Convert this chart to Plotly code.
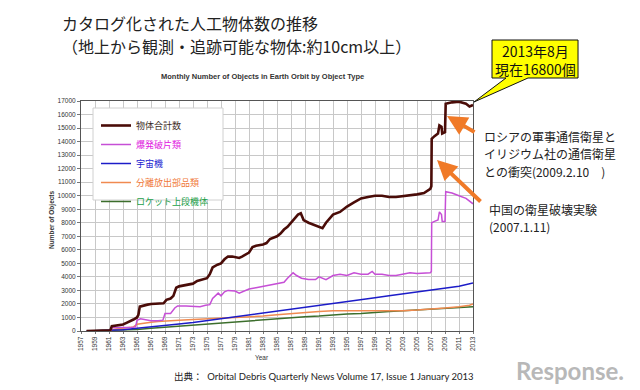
import plotly.graph_objects as go

# ---------------- data ----------------
total_x = [1957.8, 1958.5, 1959.5, 1960.5, 1961.2, 1961.4, 1962.0, 1962.5, 1963.0, 1963.5, 1964.0, 1964.5,
           1965.0, 1965.2, 1965.4, 1966.0, 1966.5, 1967.0, 1968.0, 1968.8, 1969.2, 1969.8, 1970.2, 1970.6,
           1971.0, 1972.0, 1973.0, 1973.6, 1974.4, 1975.0, 1975.4, 1975.8, 1976.5, 1977.0, 1977.5, 1978.0,
           1978.6, 1979.0, 1979.6, 1980.0, 1981.0, 1981.5, 1982.0, 1983.0, 1983.5, 1984.0, 1985.0, 1985.5,
           1986.0, 1986.5, 1987.0, 1987.5, 1988.0, 1988.4, 1988.8, 1989.5, 1990.5, 1991.0, 1991.5, 1992.0,
           1993.0, 1994.0, 1995.0, 1996.0, 1997.0, 1998.0, 1999.0, 2000.0, 2001.0, 2002.0, 2003.0, 2004.0,
           2005.0, 2006.0, 2006.9, 2007.05, 2007.1, 2007.5, 2008.0, 2008.2, 2008.5, 2008.6, 2009.0, 2009.1,
           2010.0, 2011.0, 2011.5, 2012.0, 2012.5, 2013.0]
total_y = [0, 10, 20, 40, 60, 350, 380, 420, 480, 600, 700, 850,
           1000, 1200, 1800, 1900, 1950, 2000, 2000, 2050, 2300, 2400, 2600, 3200,
           3300, 3400, 3500, 3700, 3800, 3900, 4200, 4700, 4900, 5000, 5300, 5500,
           5500, 5450, 5400, 5500, 5800, 6200, 6300, 6400, 6500, 6800, 7000, 7200,
           7500, 7700, 8000, 8300, 8600, 8700, 8200, 8000, 7800, 7700, 7600, 8000,
           8600, 8800, 9200, 9500, 9800, 9900, 10000, 10000, 9900, 9900, 9950, 10000,
           10100, 10200, 10500, 10700, 14200, 14400, 14600, 15200, 15100, 14600, 14700, 16800,
           16900, 16950, 16900, 16800, 16600, 16700]

frag_x = [1961.3, 1961.4, 1962.0, 1963.0, 1964.0, 1964.8, 1965.0, 1965.5, 1966.0, 1967.0, 1968.0, 1968.7,
          1969.0, 1969.8, 1970.4, 1970.8, 1972.0, 1973.0, 1974.0, 1974.8, 1975.4, 1975.8, 1976.3, 1976.6,
          1977.0, 1977.5, 1978.0, 1979.0, 1979.6, 1980.0, 1981.0, 1982.0, 1983.0, 1984.0, 1985.0, 1986.0,
          1986.5, 1987.3, 1987.8, 1988.5, 1989.5, 1990.5, 1991.0, 1992.0, 1993.0, 1994.0, 1995.0, 1996.0,
          1997.0, 1998.0, 1998.6, 1999.0, 2000.0, 2001.0, 2002.0, 2003.0, 2004.0, 2005.0, 2006.0, 2006.9,
          2007.05, 2007.1, 2007.5, 2008.0, 2008.2, 2008.5, 2008.6, 2009.0, 2009.1, 2010.0, 2011.0, 2012.0,
          2013.0]
frag_y = [0, 250, 250, 230, 250, 300, 800, 900, 850, 750, 750, 800,
          1300, 1300, 1700, 1850, 1850, 1800, 1800, 1900, 1950, 2400, 2700, 2800,
          2600, 2900, 3000, 2950, 2800, 2900, 3100, 3200, 3300, 3400, 3500, 3600,
          3900, 4300, 4100, 3900, 3800, 3800, 4000, 3800, 4100, 4200, 4100, 4300,
          4200, 4200, 4400, 4200, 4200, 4100, 4100, 4200, 4300, 4250, 4300, 4300,
          4400, 8000, 8100, 8200, 8800, 8600, 8100, 8100, 10300, 10200, 10000, 9800,
          9400]

sc_x = [1957.8, 1959.0, 1961.0, 1963.0, 1965.0, 1967.0, 1969.0, 1971.0, 1973.0, 1975.0, 1977.0, 1979.0,
        1981.0, 1983.0, 1985.0, 1987.0, 1989.0, 1991.0, 1993.0, 1995.0, 1997.0, 1999.0, 2001.0, 2003.0,
        2005.0, 2007.0, 2009.0, 2011.0, 2013.0]
sc_y = [0, 10, 40, 100, 200, 320, 420, 520, 620, 760, 900, 1000,
        1150, 1300, 1450, 1600, 1750, 1850, 2000, 2150, 2300, 2450, 2600, 2750,
        2850, 3000, 3150, 3300, 3550]

mrd_x = [1961.2, 1961.4, 1962.0, 1963.0, 1964.5, 1965.0, 1966.0, 1967.0, 1968.0, 1969.0, 1971.0, 1973.0,
         1975.0, 1977.0, 1979.0, 1981.0, 1983.0, 1985.0, 1987.0, 1989.0, 1991.0, 1993.0, 1995.0, 1997.0,
         1999.0, 2001.0, 2003.0, 2005.0, 2007.0, 2009.0, 2011.0, 2012.5, 2013.0]
mrd_y = [0, 100, 150, 200, 300, 500, 600, 650, 700, 750, 800, 850,
         900, 950, 950, 1000, 1100, 1200, 1300, 1400, 1450, 1500, 1500, 1450,
         1450, 1450, 1500, 1550, 1600, 1700, 1800, 1900, 2000]

rb_x = [1957.8, 1961.0, 1963.0, 1965.0, 1967.0, 1969.0, 1971.0, 1973.0, 1975.0, 1977.0, 1979.0, 1981.0,
        1983.0, 1985.0, 1987.0, 1989.0, 1991.0, 1993.0, 1995.0, 1997.0, 1999.0, 2001.0, 2003.0, 2005.0,
        2007.0, 2009.0, 2011.0, 2013.0]
rb_y = [0, 30, 60, 120, 200, 280, 350, 420, 500, 580, 650, 720,
        800, 880, 950, 1050, 1100, 1200, 1250, 1300, 1400, 1450, 1500, 1550,
        1600, 1650, 1700, 1800]

series_names = ["物体合計数", "爆発破片類", "宇宙機", "分離放出部品類", "ロケット上段機体"]
x_ticks = list(range(1957, 2014, 2))
y_ticks = list(range(0, 17001, 1000))

# ---------------- layout helpers ----------------
W, H = 640, 390
L, R, T, B = 81, 473, 101, 331


def px(x, y):
    return (x - L) / (R - L), (B - y) / (B - T)


line_colors = ["#4a0c08", "#c64fd6", "#1c1cc8", "#f08a50", "#3c6e2c"]
text_colors = ["#3a2a22", "#e020e0", "#2424d0", "#f07838", "#22a048"]
widths = [2.6, 1.5, 1.5, 1.5, 1.5]
xs = [total_x, frag_x, sc_x, mrd_x, rb_x]
ys = [total_y, frag_y, sc_y, mrd_y, rb_y]

fig = go.Figure()
for i in [4, 3, 2, 1, 0]:
    fig.add_trace(go.Scatter(
        x=xs[i], y=ys[i], mode="lines",
        line=dict(color=line_colors[i], width=widths[i]),
        name=f"<span style='color:{text_colors[i]}'>{series_names[i]}</span>",
        legendrank=i + 1,
    ))

CJK = "Noto Sans CJK JP"
annotations = []

# title lines
for txt, yy in [("カタログ化された人工物体数の推移", 23), ("（地上から観測・追跡可能な物体:約10cm以上）", 46)]:
    ax_, ay_ = px(60, yy)
    annotations.append(dict(text=txt, x=ax_, y=ay_, xref="paper", yref="paper", showarrow=False,
                            xanchor="left", yanchor="middle",
                            font=dict(family=CJK, size=16, color="#222222")))

# chart subtitle
sx, sy = px(262, 77)
annotations.append(dict(text="<b>Monthly Number of Objects in Earth Orbit by Object Type</b>",
                        x=sx, y=sy, xref="paper", yref="paper", showarrow=False,
                        xanchor="center", yanchor="middle",
                        font=dict(family="Liberation Sans", size=7.5, color="#333333")))

# source
sx, sy = px(172, 376)
annotations.append(dict(text="出典：  Orbital Debris Quarterly News Volume 17, Issue 1 January 2013",
                        x=sx, y=sy, xref="paper", yref="paper", showarrow=False,
                        xanchor="left", yanchor="middle",
                        font=dict(family="Lato, " + CJK, size=9.5, color="#222222")))

# logo text
sx, sy = px(626, 370)
annotations.append(dict(text="<b>Response.</b>", x=sx, y=sy, xref="paper", yref="paper", showarrow=False,
                        xanchor="right", yanchor="middle",
                        font=dict(family="Lato", size=24, color="#b8b8b8")))

# callout text
sx, sy = px(535, 60)
annotations.append(dict(text="2013年8月<br>現在16800個", x=sx, y=sy, xref="paper", yref="paper",
                        showarrow=False, xanchor="center", yanchor="middle", align="center",
                        font=dict(family=CJK, size=14, color="#111111")))

# event texts (one annotation per line)
for txt, xx, yy in [("ロシアの軍事通信衛星と", 482, 136), ("イリジウム社の通信衛星", 482, 153.5),
                    ("との衝突(2009.2.10　)", 482, 171), ("中国の衛星破壊実験", 487, 209),
                    ("(2007.1.11)", 487, 226.5)]:
    sx, sy = px(xx, yy)
    annotations.append(dict(text=txt, x=sx, y=sy, xref="paper", yref="paper", showarrow=False,
                            xanchor="left", yanchor="middle", align="left",
                            font=dict(family=CJK, size=12, color="#222222")))

# orange arrows
for (hx, hy), (tx, ty) in [((447, 116), (476, 133)), ((437, 160), (482, 203))]:
    sx, sy = px(hx, hy)
    annotations.append(dict(text="", x=sx, y=sy, xref="paper", yref="paper", showarrow=True,
                            ax=tx - hx, ay=ty - hy, arrowcolor="#f07a28", arrowwidth=4,
                            arrowhead=2, arrowsize=1.0, standoff=0))

# y-axis title and x-axis title
sx, sy = px(52, 220)
annotations.append(dict(text="<b>Number of Objects</b>", x=sx, y=sy, xref="paper", yref="paper",
                        showarrow=False, textangle=-90, xanchor="center", yanchor="middle",
                        font=dict(family="Liberation Sans", size=6.5, color="#333333")))
sx, sy = px(262, 357)
annotations.append(dict(text="Year", x=sx, y=sy, xref="paper", yref="paper", showarrow=False,
                        xanchor="center", yanchor="middle",
                        font=dict(family="Liberation Sans", size=6.5, color="#333333")))

# yellow callout shape
pts = [(492, 40), (578, 40), (578, 78), (528, 78), (474, 102), (506, 78), (492, 78)]
path = "M " + " L ".join(f"{px(a, b)[0]:.4f},{px(a, b)[1]:.4f}" for a, b in pts) + " Z"
bx0, by0 = px(93, 108)
bx1, by1 = px(223, 200)
shapes = [
    dict(type="path", path=path, xref="paper", yref="paper",
         fillcolor="#ffff00", line=dict(color="#111111", width=1), layer="above"),
    dict(type="rect", x0=bx0, y0=by0, x1=bx1, y1=by1, xref="paper", yref="paper",
         fillcolor="white", line=dict(color="#d0d0d0", width=1), layer="above"),
]

lx, ly = px(96, 111)
fig.update_layout(
    width=W, height=H, autosize=False,
    margin=dict(l=L, r=W - R, t=T, b=H - B, pad=0),
    paper_bgcolor="white", plot_bgcolor="white",
    font=dict(family="Liberation Sans, " + CJK, size=7, color="#333333"),
    showlegend=True,
    legend=dict(x=lx, y=ly, xanchor="left", yanchor="top", bgcolor="rgba(0,0,0,0)",
                borderwidth=0, font=dict(family=CJK, size=9), itemwidth=30, tracegroupgap=0),
    annotations=annotations,
    shapes=shapes,
    xaxis=dict(range=[1957, 2013], tickmode="array", tickvals=x_ticks,
               ticktext=[str(v) for v in x_ticks], tickangle=-90,
               showgrid=True, gridcolor="#c8c8c8", gridwidth=1,
               showline=True, linecolor="#555555", linewidth=1, mirror=True,
               ticks="outside", ticklen=2, tickcolor="#777777",
               tickfont=dict(family="Liberation Sans", size=6.5, color="#333333"),
               zeroline=False, fixedrange=True),
    yaxis=dict(range=[0, 17000], tickmode="array", tickvals=y_ticks,
               ticktext=[str(v) for v in y_ticks],
               showgrid=True, gridcolor="#c8c8c8", gridwidth=1,
               showline=True, linecolor="#555555", linewidth=1, mirror=True,
               ticks="outside", ticklen=3, tickcolor="#777777",
               tickfont=dict(family="Liberation Sans", size=6.5, color="#333333"),
               zeroline=False, fixedrange=True),
)

fig.write_html("out.html", post_script="document.body.style.margin='0';",
               config={"displayModeBar": False})
